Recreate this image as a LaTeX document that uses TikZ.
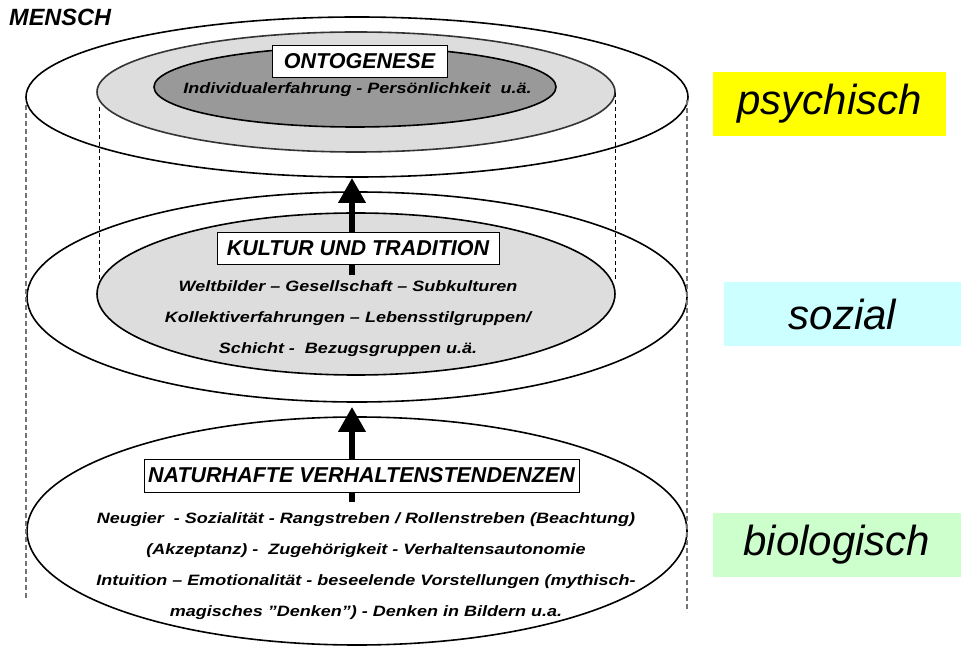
\documentclass[tikz,border=0pt]{standalone}
\usepackage{fontspec}
\setmainfont{Liberation Sans}
\newfontfamily\widesans[FakeStretch=1.2]{Liberation Sans}
\usetikzlibrary{shapes,arrows.meta,positioning}
\definecolor{ringgray}{HTML}{DDDDDD}
\definecolor{coregray}{HTML}{999999}
\definecolor{psyyellow}{HTML}{FFFF00}
\definecolor{sozcyan}{HTML}{CCFFFF}
\definecolor{biogreen}{HTML}{CCFFCC}
\tikzstyle{shell} = [ellipse, draw=black, line width=1.6pt, fill=white, inner sep=0pt]
\tikzstyle{header} = [draw, fill=white, line width=0.8pt, inner sep=0pt, font=\fontsize{21.5}{25}\selectfont\bfseries\itshape]
\tikzstyle{items} = [align=center, font=\widesans\fontsize{15}{31}\selectfont\bfseries\itshape]
\tikzstyle{layerlabel} = [minimum height=64pt, font=\fontsize{42}{48}\selectfont\itshape]
\tikzstyle{outerguide} = [draw=black!55, line width=1.4pt, dash pattern=on 5pt off 3pt]
\tikzstyle{innerguide} = [draw=black, line width=0.8pt, dash pattern=on 4pt off 3pt]
\tikzstyle{uparrow} = [line width=6.5pt, -{Triangle[width=26pt,length=25pt]}]

\begin{document}
\begin{tikzpicture}[x=1pt, y=1pt]
    \useasboundingbox (0,0) rectangle (961,646);
    % Ellipses
    \node[shell, minimum width=662pt, minimum height=160pt] (psy) at (357,549) {};
    \node[shell, draw=black!80, fill=ringgray, minimum width=518pt, minimum height=120pt] (psyring) at (356,554) {};
    \node[shell, fill=coregray, minimum width=402pt, minimum height=80pt] (psycore) at (355,559) {};
    \node[shell, minimum width=660pt, minimum height=210pt] (soz) at (357,349) {};
    \node[shell, minimum width=660pt, minimum height=228pt] (bio) at (357,115) {};
    % Guides
    \draw[outerguide] (26,541) -- (26,46);
    \draw[outerguide] (687,546) -- (687,34);
    \draw[innerguide] (99,539) -- (99,366);
    \draw[innerguide] (615,553) -- (615,366);
    \node[shell, fill=ringgray, minimum width=518pt, minimum height=162pt] (sozcore) at (356,352) {};
    % Arrows
    \coordinate (s1) at (352,371);
    \coordinate (s2) at (352,144);
    \draw[uparrow] (s1) -- (s1 |- psy.south);
    \draw[uparrow] (s2) -- ([yshift=-4pt]s2 |- soz.south);
    % Headers
    \node[header, minimum width=175pt, minimum height=32pt] (onto) at (359.5,585) {ONTOGENESE};
    \node[header, minimum width=282pt, minimum height=32pt] (kultur) at (358,398) {KULTUR UND TRADITION};
    \node[header, minimum width=435pt, minimum height=33pt] (natur) at (361.5,170.5) {NATURHAFTE VERHALTENSTENDENZEN};
    % Contents
    \node[items] (psytext) at (357.5,556) {Individualerfahrung - Persönlichkeit\ \ u.ä.};
    \node[items] (soztext) at (348,327) {Weltbilder – Gesellschaft – Subkulturen\\
        Kollektiverfahrungen – Lebensstilgruppen/\\
        Schicht -\ \ Bezugsgruppen u.ä.};
    \node[items] (biotext) at (366,79.5) {Neugier\ \ - Sozialität - Rangstreben / Rollenstreben (Beachtung)\\
        (Akzeptanz) -\ \ Zugehörigkeit - Verhaltensautonomie\\
        Intuition – Emotionalität - beseelende Vorstellungen (mythisch-\\
        magisches ”Denken”) - Denken in Bildern u.a.};
    % Labels
    \node[anchor=west, inner sep=0pt, font=\fontsize{23.5}{27}\selectfont\bfseries\itshape] (mensch) at (9,629) {MENSCH};
    \node[layerlabel, fill=psyyellow, minimum width=233pt] (psylabel) at (829.5,542) {psychisch};
    \node[layerlabel, fill=sozcyan, minimum width=237pt] (sozlabel) at (842.5,332) {sozial};
    \node[layerlabel, fill=biogreen, minimum width=248pt] (biolabel) at (837,101) {biologisch};
\end{tikzpicture}
\end{document}
